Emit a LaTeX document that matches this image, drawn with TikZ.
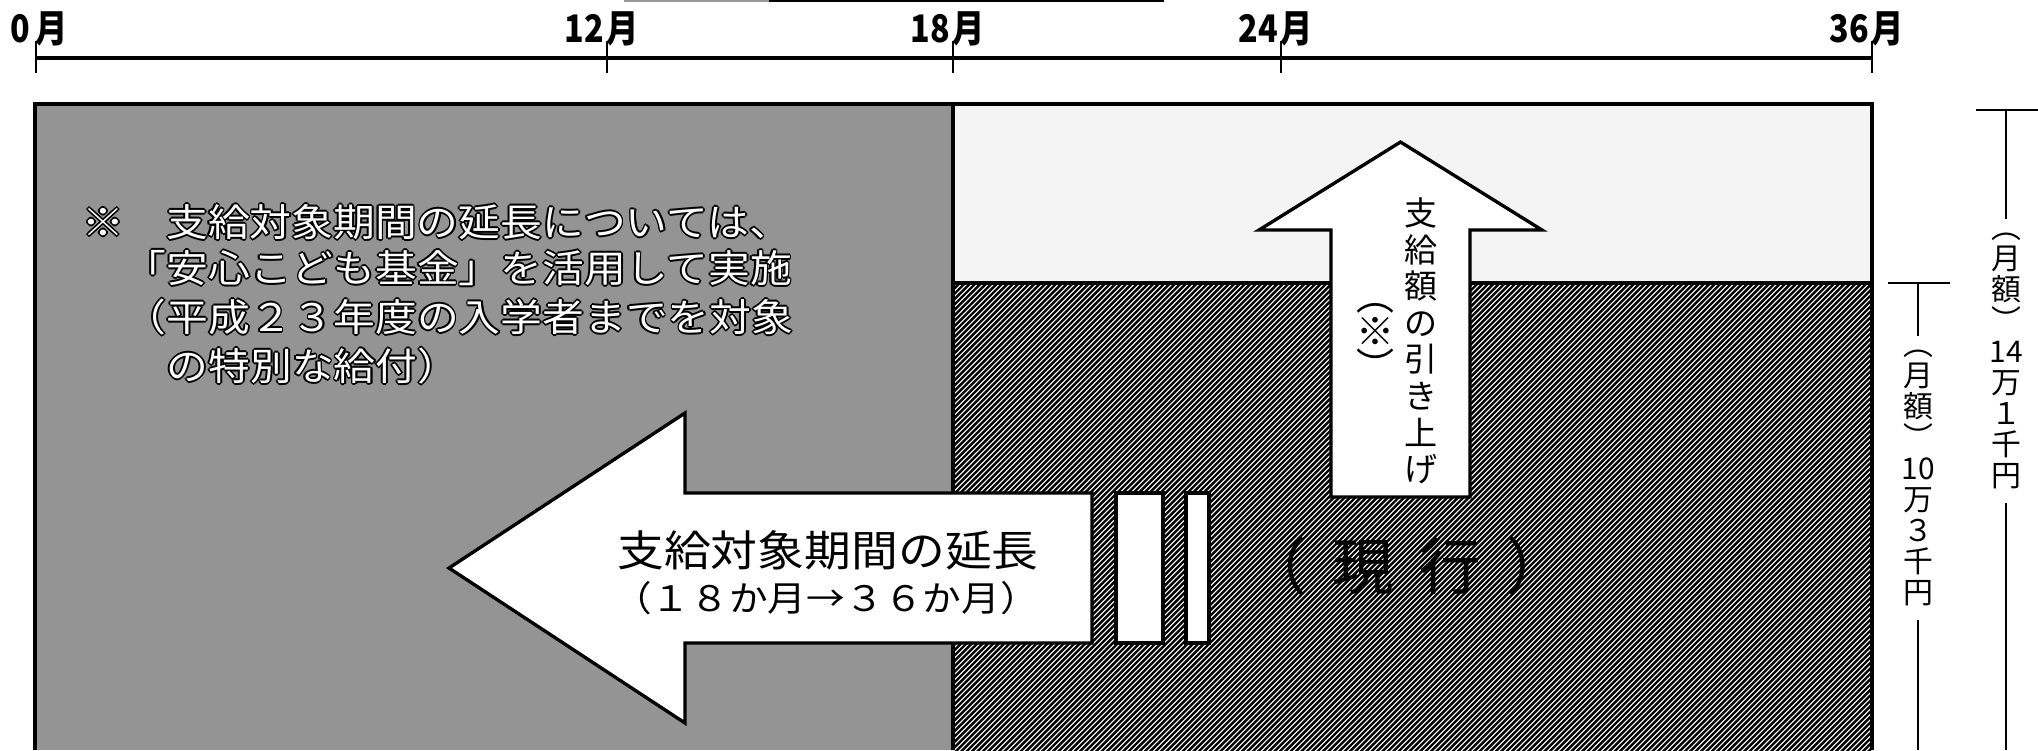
\documentclass[tikz,border=0pt]{standalone}
\usepackage{fontspec}
\newfontfamily\jp{Noto Sans CJK JP}
\newfontfamily\jpw[FakeStretch=1.1]{Noto Sans CJK JP}
\newfontfamily\jpn[FakeStretch=0.85]{Noto Sans CJK JP}
\definecolor{graybg}{RGB}{148,148,148}
\definecolor{lightbg}{RGB}{244,244,244}
\newlength\hl \setlength\hl{0.5pt}
\newcommand\halocopy[3]{\rlap{\kern#1\raisebox{#2}{\textcolor{black}{#3}}}}
\newcommand\halotext[1]{\leavevmode
  \halocopy{\hl}{0pt}{#1}\halocopy{-\hl}{0pt}{#1}%
  \halocopy{0pt}{\hl}{#1}\halocopy{0pt}{-\hl}{#1}%
  \halocopy{0.7\hl}{0.7\hl}{#1}\halocopy{-0.7\hl}{0.7\hl}{#1}%
  \halocopy{0.7\hl}{-0.7\hl}{#1}\halocopy{-0.7\hl}{-0.7\hl}{#1}%
  \textcolor{white}{#1}}
\begin{document}
\begin{tikzpicture}[x=0.01cm,y=-0.01cm,
  edge/.style={line width=0.95pt},
  thinline/.style={line width=0.7pt},
  hatchline/.style={line width=0.68pt},
  arrowbox/.style={fill=white,draw=black,line width=0.95pt,line join=miter},
  graytext/.style={inner sep=0pt,anchor=west,font=\jpw\fontsize{10.8pt}{13pt}\selectfont},
  axislabel/.style={inner sep=0pt,anchor=base east,font=\jpn\bfseries\fontsize{10.8pt}{12pt}\selectfont},
  vtext/.style={align=center,inner sep=0pt,outer sep=4pt,font=\jp\fontsize{8.5pt}{8.8pt}\selectfont}
]
\useasboundingbox (0,0) rectangle (2038,750);
\fill[white] (0,0) rectangle (2038,750);
% regions
\fill[graybg] (35,104) rectangle (953,750);
\fill[lightbg] (953,104) rectangle (1872,283);
\begin{scope}
  \clip (953,283) rectangle (1872,750);
  \foreach \i in {0,...,262} \draw[hatchline] ({480+\i*5.4},752) -- ++(472,-472);
\end{scope}
% frame lines
\draw[edge] (35,750) -- (35,104) -- (1872,104) -- (1872,750);
\draw[edge] (953,104) -- (953,750);
\draw[edge] (953,283) -- (1872,283);
% fragment at top
\draw[line width=0.8pt,black!40] (624,1) -- (769,1);
\draw[line width=0.8pt] (769,1) -- (1164,1);
% left arrow
\draw[arrowbox] (685,493) -- (1092,493) -- (1092,643) -- (685,643) -- (685,723) -- (449,568) -- (685,413) -- cycle;
% equal bars
\draw[arrowbox] (1116,493) rectangle (1163,643);
\draw[arrowbox] (1186,493) rectangle (1209,643);
% up arrow
\draw[arrowbox] (1331,497) -- (1331,230) -- (1259,230) -- (1400.5,142) -- (1542,230) -- (1470,230) -- (1470,497) -- cycle;
% texts in gray region
\node[graytext] (g1) at (82,222) {\halotext{※　支給対象期間の延長については、}};
\node[graytext] (g2) at (124,268) {\halotext{「安心こども基金」を活用して実施}};
\node[graytext] (g3) at (124,317) {\halotext{（平成２３年度の入学者までを対象}};
\node[graytext] (g4) at (166,366) {\halotext{の特別な給付）}};
% left arrow text
\node[inner sep=0pt,font=\jpw\fontsize{12.1pt}{14pt}\selectfont] (lt1) at (828,550) {支給対象期間の延長};
\node[inner sep=0pt,font=\jpw\fontsize{10pt}{12pt}\selectfont] (lt2) at (826,598) {（１８か月→３６か月）};
% up arrow text
\node[align=center,inner sep=0pt,font=\jp\fontsize{9.4pt}{10.4pt}\selectfont] (ut1) at (1421,341) {支\\給\\額\\の\\引\\き\\上\\げ};
\node[align=center,inner sep=0pt,font=\jp\fontsize{10.8pt}{10pt}\selectfont] (ut2) at (1375,342) {︵\\※\\︶};
% current
\node[inner sep=0pt,font=\jp\fontsize{17.5pt}{19pt}\selectfont] (genko) at (1407,566) {\makebox[0.87cm]{（}\makebox[0.87cm]{現}\makebox[0.87cm]{行}\makebox[0.87cm]{）}};
% time axis
\coordinate (ax0) at (36,58);
\coordinate (ax36) at (1872,58);
\draw[line width=1.1pt] (ax0) -- (ax36);
\foreach \x in {36,607,953,1281,1872} \draw[thinline] (\x,41) -- (\x,73);
\node[axislabel] (t0) at (31,42) {0\rlap{\kern0.05cm 月}};
\node[axislabel] (t12) at (605,42) {12\rlap{\kern0.02cm 月}};
\node[axislabel] (t18) at (951,42) {18\rlap{\kern0.02cm 月}};
\node[axislabel] (t24) at (1279,42) {24\rlap{\kern0.02cm 月}};
\node[axislabel] (t36) at (1870,42) {36\rlap{\kern0.02cm 月}};
% right scale bars
\node[vtext] (m14) at (2006,361) {︵\\月\\額\\︶\\14\\万\\１\\千\\円};
\coordinate (c14a) at (2006,110);
\coordinate (c14b) at (2006,750);
\draw[thinline] (1976,110) -- (2038,110);
\draw[thinline] (c14a) -- (m14.north);
\draw[thinline] (m14.south) -- (c14b);
\node[vtext] (m10) at (1918,478) {︵\\月\\額\\︶\\10\\万\\３\\千\\円};
\coordinate (c10a) at (1918,283);
\coordinate (c10b) at (1918,750);
\draw[thinline] (1888,283) -- (1950,283);
\draw[thinline] (c10a) -- (m10.north);
\draw[thinline] (m10.south) -- (c10b);
\end{tikzpicture}
\end{document}
